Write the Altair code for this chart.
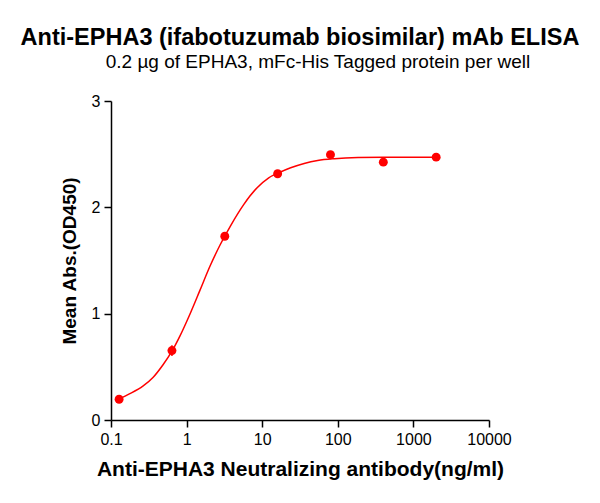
import altair as alt
import pandas as pd

# measured points
conc = [0.128, 0.64, 3.2, 16, 80, 400, 2000]
od = [0.195, 0.653, 1.728, 2.316, 2.495, 2.425, 2.472]
err = [0.01, 0.05, 0.02, 0.02, 0.03, 0.01, 0.01]

# fitted curve
curve_x = [0.128, 0.175, 0.264, 0.359, 0.488, 0.643, 0.815, 1.106, 1.50, 2.05, 2.78,
           3.78, 5.69, 8.57, 12.2, 16.6, 23.8, 35.9, 54.1, 90.2, 185, 400, 2000]
curve_y = [0.198, 0.245, 0.318, 0.400, 0.520, 0.650, 0.789, 0.995, 1.219, 1.450, 1.648,
           1.822, 2.026, 2.184, 2.278, 2.325, 2.372, 2.413, 2.441, 2.458, 2.468, 2.470, 2.472]

title_text = "Anti-EPHA3 (ifabotuzumab biosimilar) mAb ELISA"
subtitle_text = ["0.2 µg of EPHA3, mFc-His Tagged protein per well"]

pts = pd.DataFrame({"x": conc, "y": od, "lo": [a - b for a, b in zip(od, err)],
                    "hi": [a + b for a, b in zip(od, err)]})
cur = pd.DataFrame({"x": curve_x, "y": curve_y})
sub = pd.DataFrame({"t": subtitle_text})

FONT = "Liberation Sans"

xs = alt.Scale(type="log", domain=[0.1, 10000])
ys = alt.Scale(domain=[0, 3])

xaxis = alt.Axis(values=[0.1, 1, 10, 100, 1000, 10000],
                 labelExpr="datum.value < 1 ? '0.1' : format(datum.value, 'd')",
                 title="Anti-EPHA3 Neutralizing antibody(ng/ml)", grid=False, tickSize=7,
                 domainColor="black", tickColor="black", domainWidth=1.5, tickWidth=1.5,
                 labelFontSize=16, labelColor="black", labelFont=FONT, labelPadding=4,
                 titleFont=FONT, titleFontSize=21, titleFontWeight="bold", titleColor="black",
                 titlePadding=11, labelFlush=False)
yaxis = alt.Axis(values=[0, 1, 2, 3], format="d", title="Mean Abs.(OD450)", grid=False, tickSize=7,
                 domainColor="black", tickColor="black", domainWidth=1.5, tickWidth=1.5,
                 labelFontSize=16, labelColor="black", labelFont=FONT, labelPadding=4,
                 titleFont=FONT, titleFontSize=19, titleFontWeight="bold", titleColor="black",
                 titlePadding=12)

line = alt.Chart(cur).mark_line(color="#ff0000", strokeWidth=1.5, interpolate="monotone").encode(
    x=alt.X("x:Q", scale=xs, axis=xaxis),
    y=alt.Y("y:Q", scale=ys, axis=yaxis),
)
bars = alt.Chart(pts).mark_rule(color="#ff0000", strokeWidth=1.5).encode(
    x=alt.X("x:Q", scale=xs, axis=xaxis), y=alt.Y("lo:Q", scale=ys, axis=yaxis), y2="hi:Q"
)
dots = alt.Chart(pts).mark_circle(color="#ff0000", opacity=1, size=80).encode(
    x=alt.X("x:Q", scale=xs, axis=xaxis), y=alt.Y("y:Q", scale=ys, axis=yaxis)
)
subtitle = alt.Chart(sub).mark_text(font=FONT, fontSize=19, color="black", align="center",
                                    baseline="alphabetic").encode(
    text="t:N", x=alt.value(207), y=alt.value(-33)
)

chart = alt.layer(line, bars, dots, subtitle).properties(
    width=378, height=319,
    title=alt.TitleParams(
        text=title_text,
        font=FONT, fontSize=23.5, fontWeight="bold", color="black",
        anchor="middle", offset=4,
    ),
    view=alt.ViewBackground(stroke="white", strokeWidth=1),
    autosize=alt.AutoSizeParams(type="none"),
    padding={"left": 103, "top": 93, "right": 103, "bottom": 75},
).configure(background="white").configure_view(strokeWidth=1, stroke="white").configure_axis(grid=False)

chart.save("out.html", embed_options={"renderer": "svg", "actions": False})
